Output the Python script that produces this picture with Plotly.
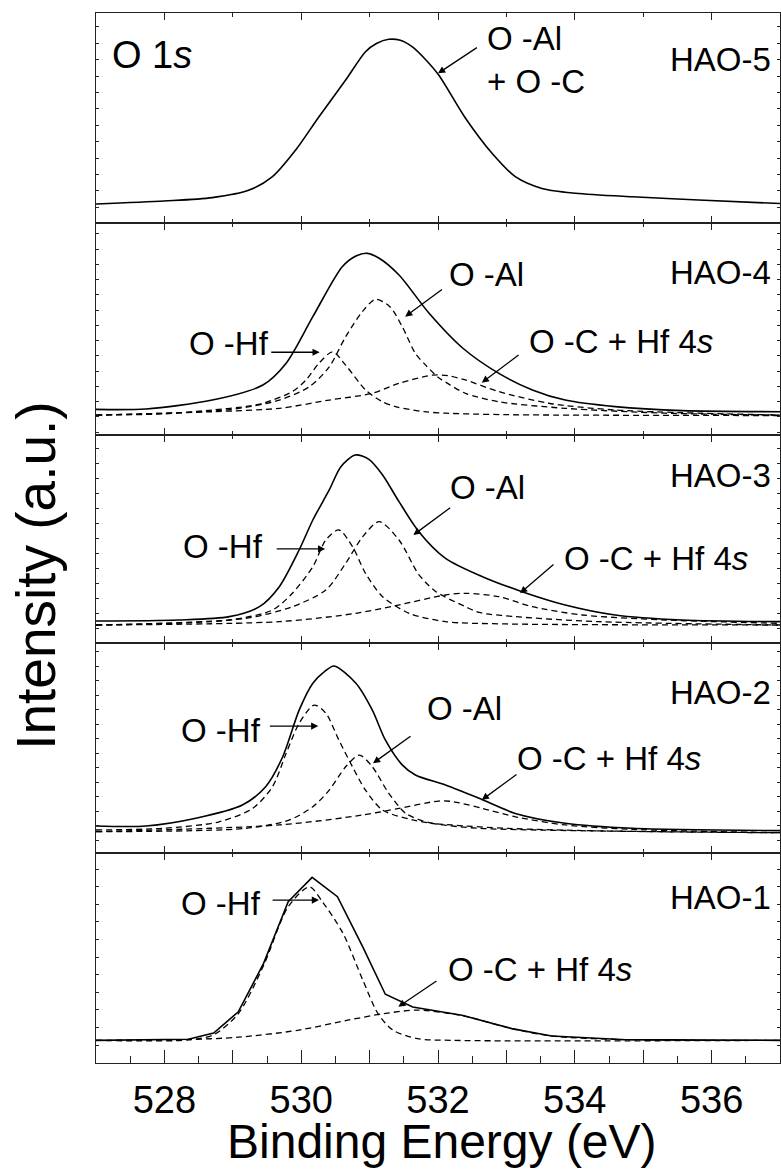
import plotly.graph_objects as go

FONT = "Liberation Sans, Arial, sans-serif"
x_range = [527, 537]
panel_names = ["HAO-5", "HAO-4", "HAO-3", "HAO-2", "HAO-1"]

# ---------------- HAO-5 ----------------
hao5_E = [527.0, 528.0, 528.7, 529.24, 529.58, 529.92, 530.26, 530.65, 530.94, 531.1, 531.28,
          531.45, 531.62, 531.8, 532.01, 532.4, 532.79, 533.13, 533.52, 534.01, 534.84, 535.81, 537.0]
hao5_total = [9.2, 10.6, 12.2, 15.8, 22.2, 34.9, 50.7, 68.1, 81.6, 85.5, 87.5,
              87.0, 84.0, 78.5, 70.5, 50.1, 33.3, 22.2, 16.6, 14.3, 12.6, 11.1, 9.4]

# ---------------- HAO-4 ----------------
hao4_E = [527.0, 527.73, 528.7, 529.44, 529.78, 530.17, 530.6, 530.8, 530.97, 531.14, 531.43,
          531.87, 532.36, 532.89, 533.38, 533.86, 534.59, 535.57, 537.0]
hao4_total = [12.1, 12.3, 16.5, 23.6, 33.9, 55.9, 79.5, 84.6, 85.8, 83.5, 75.6,
              57.5, 41.1, 29.1, 21.3, 16.5, 13.4, 11.5, 11.0]
hao4_ohf_E = [527.0, 528.0, 528.7, 529.2, 529.44, 529.87, 530.07, 530.26, 530.46, 530.65, 530.94,
              531.17, 531.38, 531.8, 532.11, 533.0, 537.0]
hao4_ohf = [9.4, 10.0, 11.8, 13.5, 15.0, 20.5, 26.0, 33.9, 39.3, 33.0, 21.3,
            16.0, 13.4, 11.0, 10.3, 9.6, 9.2]
hao4_oal_E = [527.0, 528.95, 529.68, 530.12, 530.41, 530.65, 530.9, 531.09, 531.3, 531.48, 531.67,
              531.82, 532.01, 532.11, 532.4, 532.89, 533.86, 535.33, 537.0]
hao4_oal = [9.4, 12.0, 16.5, 22.8, 32.2, 46.4, 58.5, 64.1, 60.5, 51.0, 38.5,
            33.0, 27.0, 25.0, 19.7, 15.7, 12.6, 10.3, 9.4]
hao4_oc_E = [527.0, 528.7, 529.68, 530.41, 531.04, 531.43, 531.92, 532.15, 532.4, 532.89, 533.62, 534.59, 537.0]
hao4_oc = [9.4, 11.0, 12.6, 16.5, 19.7, 24.4, 28.3, 28.0, 26.0, 20.5, 15.0, 11.8, 9.4]

# ---------------- HAO-3 ----------------
hao3_E = [527.0, 528.2, 528.95, 529.39, 529.68, 529.97, 530.17, 530.41, 530.58, 530.79, 530.99,
          531.19, 531.43, 531.72, 532.11, 532.65, 533.23, 533.86, 534.59, 535.57, 537.0]
hao3_total = [10.7, 11.2, 12.8, 17.6, 27.2, 44.8, 59.2, 73.6, 84.8, 90.4, 88.3,
              80.8, 68.0, 53.6, 40.8, 32.0, 24.8, 18.4, 13.6, 11.2, 10.4]
hao3_ohf_E = [527.0, 528.95, 529.58, 529.87, 530.17, 530.36, 530.55, 530.75, 530.94, 531.19, 531.58, 532.11, 533.0, 537.0]
hao3_ohf = [8.8, 11.2, 16.0, 24.0, 36.8, 49.6, 54.4, 46.4, 33.6, 22.4, 14.4, 10.4, 9.3, 8.8]
hao3_oal_E = [527.0, 529.19, 529.87, 530.36, 530.65, 530.9, 531.14, 531.43, 531.72, 531.97, 532.4, 532.6, 533.13, 534.35, 537.0]
hao3_oal = [8.8, 12.0, 17.6, 25.6, 38.4, 51.2, 58.4, 49.6, 33.0, 24.8, 17.6, 14.8, 12.8, 10.4, 8.8]
hao3_oc_E = [527.0, 529.68, 530.8, 531.38, 532.11, 532.4, 532.89, 533.38, 534.11, 535.33, 537.0]
hao3_oc = [8.8, 10.4, 14.4, 18.1, 23.2, 24.0, 22.4, 17.6, 13.6, 11.2, 9.6]

# ---------------- HAO-2 ----------------
hao2_E = [527.0, 527.73, 528.46, 529.14, 529.48, 529.73, 529.97, 530.17, 530.34, 530.48, 530.8,
          531.04, 531.23, 531.48, 531.67, 532.11, 532.6, 533.13, 533.86, 534.84, 537.0]
hao2_total = [13.0, 13.0, 16.7, 23.0, 31.7, 46.0, 68.2, 81.0, 86.5, 89.2, 81.0,
              68.2, 54.0, 42.0, 37.3, 32.5, 26.2, 19.0, 14.3, 11.9, 10.8]
hao2_ohf_E = [527.0, 527.98, 528.8, 529.29, 529.58, 529.78, 529.97, 530.19, 530.36, 530.55, 530.75,
              530.94, 531.19, 531.63, 532.01, 532.6, 537.0]
hao2_ohf = [11.1, 11.9, 15.0, 21.4, 31.7, 47.6, 61.9, 70.6, 66.7, 54.0, 41.2,
            30.1, 20.6, 15.9, 13.8, 11.9, 9.8]
hao2_oal_E = [527.0, 529.19, 529.83, 530.17, 530.41, 530.65, 530.85, 531.04, 531.28, 531.53, 531.87, 532.2, 533.0, 534.5, 537.0]
hao2_oal = [10.3, 11.9, 15.9, 22.2, 30.1, 41.2, 46.8, 41.2, 28.6, 19.0, 14.6, 13.5, 11.9, 10.6, 9.8]
hao2_oc_E = [527.0, 529.68, 530.89, 531.43, 532.01, 532.2, 532.65, 533.13, 533.86, 534.84, 537.0]
hao2_oc = [10.3, 13.5, 18.2, 21.4, 24.9, 24.7, 21.4, 17.4, 13.5, 11.4, 9.8]

# ---------------- HAO-1 ----------------
hao1_E = [527.0, 528.35, 528.72, 529.08, 529.45, 529.81, 530.16, 530.53, 530.9, 531.23, 531.63,
          532.35, 533.08, 533.66, 534.68, 537.0]
hao1_total = [10.8, 11.3, 14.3, 24.4, 47.5, 76.9, 88.5, 79.3, 55.4, 32.8, 26.7,
              22.8, 16.4, 12.9, 11.2, 10.8]
hao1_ohf_E = [527.0, 528.35, 528.72, 529.08, 529.45, 529.81, 530.12, 530.31, 530.61, 530.9, 531.12,
              531.34, 531.7, 532.2, 537.0]
hao1_ohf = [10.8, 11.0, 13.5, 23.5, 46.5, 74.5, 84.0, 76.9, 61.9, 39.6, 23.7,
            15.7, 11.6, 10.8, 10.8]
hao1_oc_E = [527.0, 528.35, 529.08, 529.95, 530.68, 531.2, 531.7, 532.35, 533.08, 533.66, 534.68, 537.0]
hao1_oc = [10.8, 11.2, 12.3, 15.6, 20.4, 23.5, 25.2, 22.6, 16.4, 12.9, 11.2, 10.8]

panels = [
    {"total": (hao5_E, hao5_total), "comps": []},
    {"total": (hao4_E, hao4_total), "comps": [(hao4_ohf_E, hao4_ohf), (hao4_oal_E, hao4_oal), (hao4_oc_E, hao4_oc)]},
    {"total": (hao3_E, hao3_total), "comps": [(hao3_ohf_E, hao3_ohf), (hao3_oal_E, hao3_oal), (hao3_oc_E, hao3_oc)]},
    {"total": (hao2_E, hao2_total), "comps": [(hao2_ohf_E, hao2_ohf), (hao2_oal_E, hao2_oal), (hao2_oc_E, hao2_oc)]},
    {"total": (hao1_E, hao1_total), "comps": [(hao1_ohf_E, hao1_ohf), (hao1_oc_E, hao1_oc)]},
]

domains = [[0.7997, 1.0], [0.5981, 0.7997], [0.3997, 0.5981], [0.1997, 0.3997], [0.0, 0.1997]]
ytick0 = [7.6, 8.6, 6.9, 6.3, 8.5]
ydtick = [7.8, 7.2, 7.2, 6.9, 8.4]

fig = go.Figure()
AX = "#222222"

for i, p in enumerate(panels):
    k = i + 1
    xa = "x" if k == 1 else f"x{k}"
    ya = "y" if k == 1 else f"y{k}"
    for (ex, iy) in p["comps"]:
        fig.add_trace(go.Scatter(x=ex, y=iy, xaxis=xa, yaxis=ya, mode="lines",
                                 line=dict(color="black", width=1.3, dash="6px,4px",
                                           shape="spline", smoothing=0.8),
                                 showlegend=False, hoverinfo="skip"))
    ex, iy = p["total"]
    fig.add_trace(go.Scatter(x=ex, y=iy, xaxis=xa, yaxis=ya, mode="lines",
                             line=dict(color="black", width=1.6,
                                       shape="linear" if k == 5 else "spline",
                                       smoothing=0.8),
                             showlegend=False, hoverinfo="skip"))

layout = dict(
    width=781, height=1171,
    margin=dict(l=96, r=1, t=13, b=108),
    paper_bgcolor="white", plot_bgcolor="white",
    font=dict(family=FONT, color="black"),
    showlegend=False,
)

for i in range(5):
    k = i + 1
    xname = "xaxis" if k == 1 else f"xaxis{k}"
    yname = "yaxis" if k == 1 else f"yaxis{k}"
    yref = "y" if k == 1 else f"y{k}"
    if k < 5:
        layout[xname] = dict(range=x_range, anchor=yref, showline=True, linecolor=AX, linewidth=1.3,
                             mirror="ticks", ticks="inside", ticklen=7, tickwidth=1.2, tickcolor=AX,
                             tick0=528, dtick=2, showticklabels=False, showgrid=False, zeroline=False,
                             minor=dict(ticks="inside", ticklen=4, tickwidth=1.2, tickcolor=AX,
                                        tick0=527, dtick=1, showgrid=False))
    else:
        layout[xname] = dict(range=x_range, anchor=yref, showline=True, linecolor=AX, linewidth=1.3,
                             mirror=False, ticks="inside", ticklen=13, tickwidth=1.2, tickcolor=AX,
                             tickmode="array",
                             tickvals=[527, 528, 529, 530, 531, 532, 533, 534, 535, 536, 537],
                             ticktext=["", "528", "", "530", "", "532", "", "534", "", "536", ""],
                             tickfont=dict(size=38, family=FONT, color="black"),
                             ticklabelstandoff=3,
                             showgrid=False, zeroline=False,
                             minor=dict(ticks="inside", ticklen=7, tickwidth=1.2, tickcolor=AX,
                                        tick0=527, dtick=0.5, showgrid=False))
    layout[yname] = dict(domain=domains[i], range=[0, 100], anchor="x" if k == 1 else f"x{k}",
                         showline=True, linecolor=AX, linewidth=1.3, mirror="ticks",
                         ticks="inside", ticklen=3, tickwidth=1, tickcolor=AX,
                         tick0=ytick0[i], dtick=ydtick[i], showticklabels=False,
                         showgrid=False, zeroline=False, fixedrange=True)

# top edge of bottom panel
layout["xaxis6"] = dict(range=x_range, overlaying="x5", anchor="y5", side="top", showline=True,
                        linecolor=AX, linewidth=1.3, ticks="inside", ticklen=7, tickwidth=1.2,
                        tickcolor=AX, tick0=528, dtick=2, showticklabels=False, showgrid=False,
                        zeroline=False,
                        minor=dict(ticks="inside", ticklen=4, tickwidth=1.2, tickcolor=AX,
                                   tick0=527, dtick=1, showgrid=False))
fig.add_trace(go.Scatter(x=[527], y=[0], xaxis="x6", yaxis="y5", mode="markers",
                         marker=dict(opacity=0), showlegend=False, hoverinfo="skip"))

fig.update_layout(**layout)

LBL = 33
ann = []

def txt(k, x, y, text, xanchor="left", size=LBL):
    ann.append(dict(xref="x" if k == 1 else f"x{k}", yref="y" if k == 1 else f"y{k}",
                    x=x, y=y, text=text, showarrow=False, xanchor=xanchor, yanchor="middle",
                    font=dict(size=size, family=FONT, color="black")))

def arr(k, x0, y0, x1, y1):
    xr = "x" if k == 1 else f"x{k}"
    yr = "y" if k == 1 else f"y{k}"
    ann.append(dict(xref=xr, yref=yr, axref=xr, ayref=yr, x=x1, y=y1, ax=x0, ay=y0, text="",
                    showarrow=True, arrowhead=2, arrowsize=1.1, arrowwidth=1.3, arrowcolor="black",
                    standoff=0, startstandoff=0))

# panel names
name_y = [77.9, 76.8, 80.6, 76.6, 78.9]
for i, nm in enumerate(panel_names):
    txt(i + 1, 536.9, name_y[i], nm, xanchor="right")

# HAO-5
txt(1, 527.2, 80.0, "O 1<i>s</i>", size=38)
txt(1, 532.69, 87.9, "O -Al")
txt(1, 532.69, 67.2, "+ O -C")
arr(1, 532.59, 84.0, 532.0, 71.3)
# HAO-4
txt(2, 532.13, 76.0, "O -Al")
arr(2, 532.08, 69.3, 531.52, 55.9)
txt(2, 529.56, 43.0, "O -Hf", xanchor="right")
arr(2, 529.54, 39.1, 530.27, 39.1)
txt(2, 533.3, 44.1, "O -C + Hf 4<i>s</i>")
arr(2, 533.2, 38.3, 532.64, 24.7)
# HAO-3
txt(3, 532.15, 74.8, "O -Al")
arr(3, 532.2, 65.6, 531.64, 52.0)
txt(3, 529.47, 46.4, "O -Hf", xanchor="right")
arr(3, 529.62, 45.3, 530.35, 45.3)
txt(3, 533.81, 40.5, "O -C + Hf 4<i>s</i>")
arr(3, 533.71, 38.4, 533.2, 24.0)
# HAO-2
txt(4, 531.81, 69.0, "O -Al")
arr(4, 531.62, 56.3, 531.05, 42.9)
txt(4, 529.44, 58.7, "O -Hf", xanchor="right")
arr(4, 529.52, 60.6, 530.25, 60.6)
txt(4, 533.13, 45.2, "O -C + Hf 4<i>s</i>")
arr(4, 533.17, 38.1, 532.64, 25.4)
# HAO-1
txt(5, 529.44, 76.1, "O -Hf", xanchor="right")
arr(5, 529.56, 77.7, 530.26, 77.7)
txt(5, 532.11, 44.7, "O -C + Hf 4<i>s</i>")
arr(5, 532.0, 39.6, 531.42, 26.8)

# axis titles
ann.append(dict(xref="paper", yref="paper", x=0.506, y=-0.0745, text="Binding Energy (eV)",
                showarrow=False, xanchor="center", yanchor="middle",
                font=dict(size=48, family=FONT, color="black")))
ann.append(dict(xref="paper", yref="paper", x=-0.0877, y=0.464, text="Intensity (a.u.)",
                textangle=-90, showarrow=False, xanchor="center", yanchor="middle",
                font=dict(size=55, family=FONT, color="black")))

fig.update_layout(annotations=ann)
fig.write_html("out.html")
